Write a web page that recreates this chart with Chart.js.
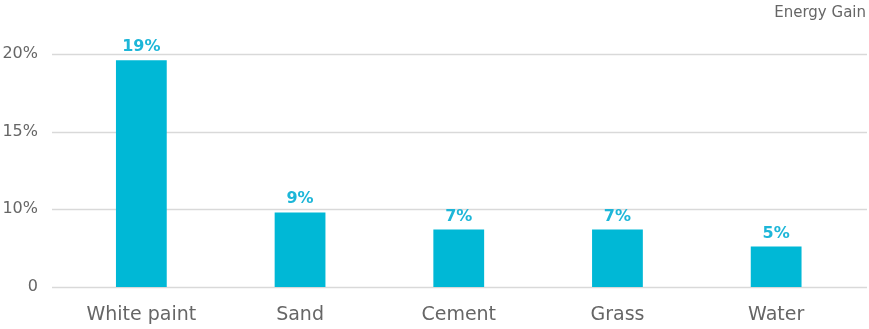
<!DOCTYPE html>
<html>
<head>
<meta charset="utf-8">
<script src="https://cdn.jsdelivr.net/npm/chart.js@4"></script>
<style>
  html, body { margin: 0; padding: 0; background: #fff; }
  #wrap { width: 869px; height: 329px; }
</style>
</head>
<body>
<div id="wrap"><canvas id="gainChart" width="869" height="329"></canvas></div>
<script>
// data
const categories = ['White paint', 'Sand', 'Cement', 'Grass', 'Water'];
const barHeights = [19.6, 9.8, 8.7, 8.7, 7.6];   // bar tops measured on the axis
const gainLabels = [19, 9, 7, 7, 5];             // values printed above the bars
const yTicks = [5, 10, 15, 20];
const yTickText = ['0', '10%', '15%', '20%'];
const chartTitle = 'Energy Gain';

const textGrey = '#666666';
const barBlue = '#00B8D6';
const labelBlue = '#1DB6D8';
const gridGrey = '#D9D9D9';
const fontFamily = '"DejaVu Sans", sans-serif';

// grid lines run a bit wider than the category area, so draw them here
const wideGrid = {
  id: 'wideGrid',
  beforeDatasetsDraw(chart) {
    const ctx = chart.ctx;
    const y = chart.scales.y;
    ctx.save();
    ctx.strokeStyle = gridGrey;
    ctx.lineWidth = 1.5;
    yTicks.forEach(v => {
      const py = Math.round(y.getPixelForValue(v)) + 0.5;
      ctx.beginPath();
      ctx.moveTo(52, py);
      ctx.lineTo(867, py);
      ctx.stroke();
    });
    ctx.restore();
  }
};

// value labels above bars + corner title
const barLabels = {
  id: 'barLabels',
  afterDatasetsDraw(chart) {
    const ctx = chart.ctx;
    const meta = chart.getDatasetMeta(0);
    ctx.save();
    ctx.fillStyle = labelBlue;
    ctx.font = 'bold 16px ' + fontFamily;
    ctx.textAlign = 'center';
    ctx.textBaseline = 'alphabetic';
    meta.data.forEach((bar, i) => {
      ctx.fillText(gainLabels[i] + '%', bar.x, bar.y - 9);
    });
    ctx.fillStyle = textGrey;
    ctx.font = '15px ' + fontFamily;
    ctx.textAlign = 'right';
    ctx.textBaseline = 'alphabetic';
    ctx.fillText(chartTitle, 866, 17);
    ctx.restore();
  }
};

new Chart(document.getElementById('gainChart').getContext('2d'), {
  type: 'bar',
  data: {
    labels: categories,
    datasets: [{
      label: chartTitle,
      data: barHeights,
      backgroundColor: barBlue,
      borderWidth: 0,
      barPercentage: 0.32,
      categoryPercentage: 1
    }]
  },
  options: {
    responsive: false,
    animation: false,
    layout: { padding: { top: 54, right: 13.5, bottom: 0, left: 0 } },
    plugins: {
      legend: { display: false },
      tooltip: { enabled: false },
      title: { display: false }
    },
    scales: {
      x: {
        grid: { display: false, drawTicks: false },
        border: { display: false },
        ticks: { color: textGrey, font: { family: fontFamily, size: 19 }, padding: 17, maxRotation: 0 },
        afterFit(scale) { scale.height = 42; }
      },
      y: {
        min: 5,
        max: 20,
        grid: { display: false, drawTicks: false },
        border: { display: false },
        afterBuildTicks(scale) { scale.ticks = yTicks.map(v => ({ value: v })); },
        ticks: {
          color: textGrey,
          font: { family: fontFamily, size: 16 },
          padding: 24,
          callback: (v) => yTickText[yTicks.indexOf(v)]
        },
        afterFit(scale) { scale.width = 62; }
      }
    }
  },
  plugins: [wideGrid, barLabels]
});
</script>
</body>
</html>
